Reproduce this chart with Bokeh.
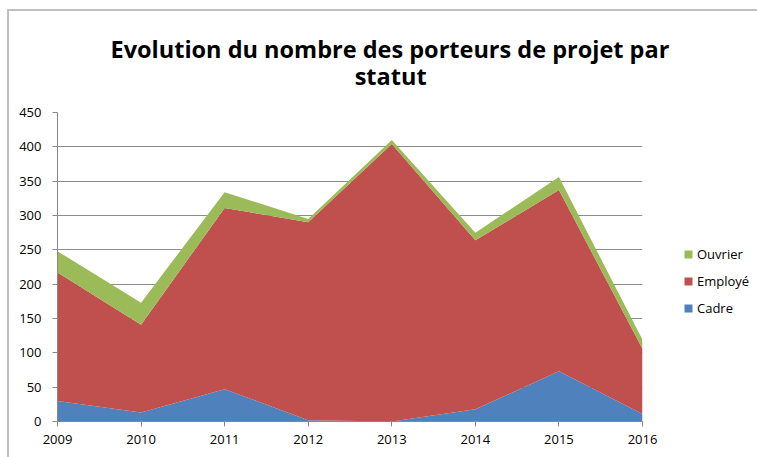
from bokeh.plotting import figure
from bokeh.models import ColumnDataSource, Legend, LegendItem, FixedTicker, Range1d
from bokeh.embed import file_html
from bokeh.resources import INLINE

years = [2009, 2010, 2011, 2012, 2013, 2014, 2015, 2016]
cadre = [30, 13, 47, 2, 0, 18, 73, 11]
employe = [187, 128, 264, 288, 404, 246, 264, 95]
ouvrier = [31, 32, 23, 5, 6, 11, 19, 13]
series_names = ["Cadre", "Employé", "Ouvrier"]
series_colors = ["#4F81BD", "#C0504D", "#9BBB59"]
y_ticks = [0, 50, 100, 150, 200, 250, 300, 350, 400, 450]
title_line1 = "Evolution du nombre des porteurs de projet par"
title_line2 = "statut"

source = ColumnDataSource(data=dict(x=years, Cadre=cadre, Employé=employe, Ouvrier=ouvrier))

FONT = "Open Sans"

p = figure(frame_width=585, frame_height=309, output_backend="svg", toolbar_location=None,
           x_range=Range1d(years[0], years[-1]), y_range=Range1d(0, 450),
           min_border_left=48, min_border_right=115, min_border_top=101, min_border_bottom=36)

renderers = p.varea_stack(stackers=series_names, x="x", color=series_colors, source=source)

# second line centred under the first one with non-breaking spaces
p.title.text = title_line1 + "\n" + "\u00a0" * 40 + title_line2
p.title.text_font = FONT
p.title.text_font_style = "bold"
p.title.text_font_size = "23.5px"
p.title.text_line_height = 0.85
p.title.align = "left"
p.title.offset = 53
p.title.standoff = 40
p.title.text_color = "#000000"

p.xaxis.ticker = FixedTicker(ticks=years)
p.yaxis.ticker = FixedTicker(ticks=y_ticks)
p.xgrid.grid_line_color = None
p.ygrid.grid_line_color = "#8c8c8c"
p.ygrid.grid_line_width = 1

for ax in (p.xaxis, p.yaxis):
    ax.axis_line_color = "#888888"
    ax.major_tick_line_color = "#888888"
    ax.minor_tick_line_color = None
    ax.major_tick_out = 5
    ax.major_tick_in = 0
    ax.major_label_text_font = FONT
    ax.major_label_text_font_size = "13px"
    ax.major_label_text_color = "#000000"
p.xaxis.major_label_standoff = 8
p.yaxis.major_label_standoff = 11

p.outline_line_color = None
p.background_fill_color = "white"
p.border_fill_color = "white"

items = [LegendItem(label=series_names[i], renderers=[renderers[i]]) for i in [2, 1, 0]]
legend = Legend(items=items, location=(41, 104), orientation="vertical")
legend.glyph_width = 10
legend.glyph_height = 10
legend.label_standoff = 4
legend.spacing = 9
legend.padding = 0
legend.margin = 0
legend.border_line_color = None
legend.background_fill_alpha = 0
legend.label_text_font = FONT
legend.label_text_font_size = "13px"
legend.label_text_color = "#000000"
p.add_layout(legend, "right")

p.styles = {"margin-left": "7px", "margin-top": "9px",
            "border-left": "2px solid #bfbfbf", "border-top": "2px solid #bfbfbf"}

open("out.html", "w").write(file_html(p, INLINE))
